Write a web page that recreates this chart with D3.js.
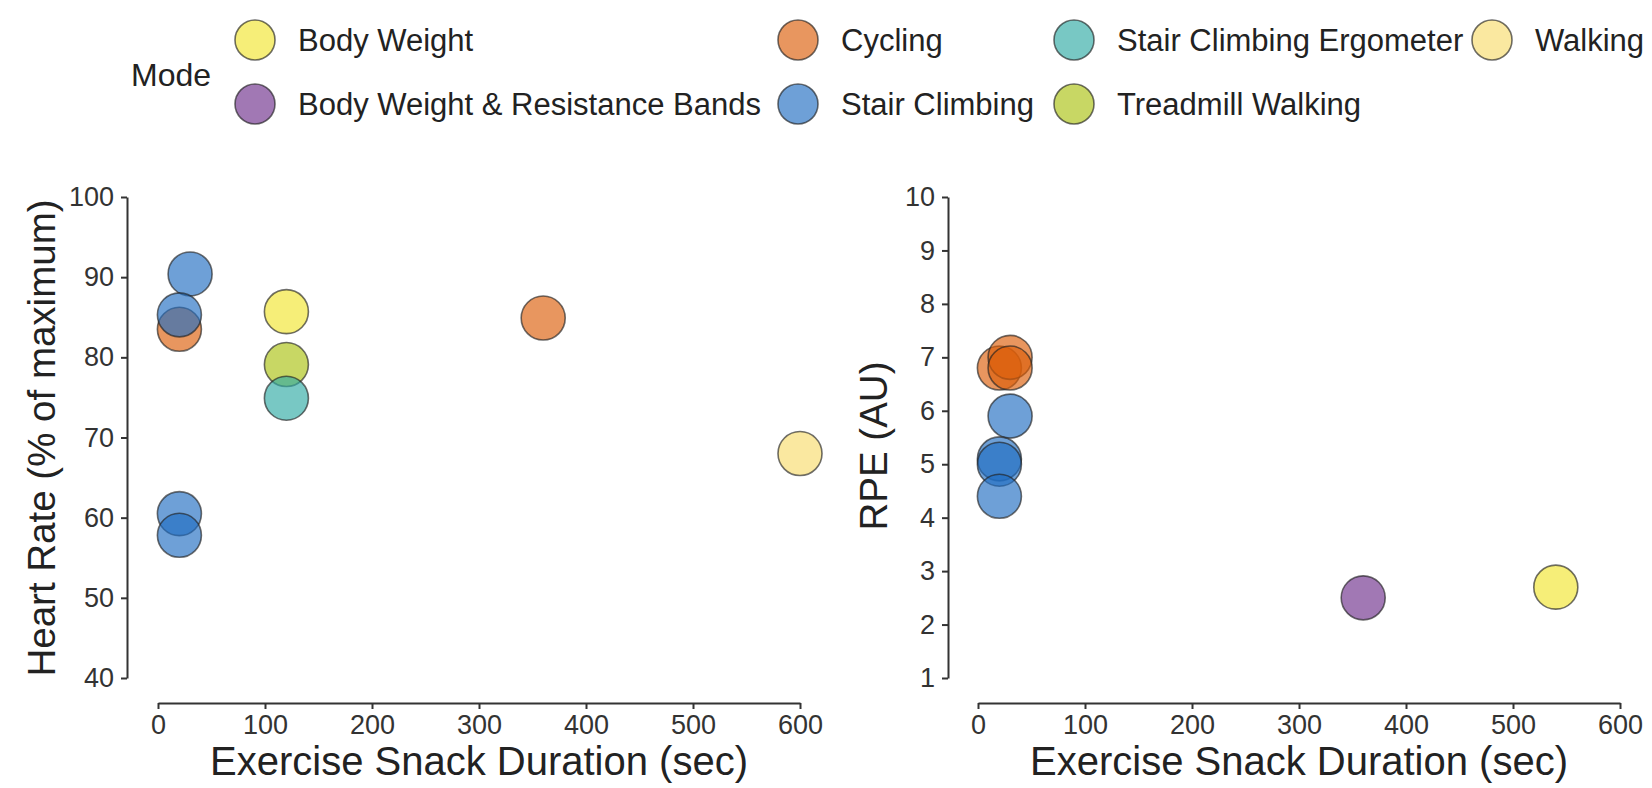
<!DOCTYPE html>
<html>
<head>
<meta charset="utf-8">
<script src="https://cdn.jsdelivr.net/npm/d3@7"></script>
<style>
  body { margin: 0; background: #fff; }
  text { font-family: "Liberation Sans", Arial, sans-serif; }
  .axis path, .axis line { stroke: #333; stroke-width: 2; }
  .axis text { fill: #333; font-size: 27px; }
</style>
</head>
<body>
<div id="canvas"></div>
<script>
// legend order (column-major, 2 rows) and colours
const modes = ["Body Weight", "Body Weight & Resistance Bands", "Cycling", "Stair Climbing",
  "Stair Climbing Ergometer", "Treadmill Walking", "Walking"];
const modeColors = ["#f1e530", "#6e308c", "#dc5e09", "#206dc2", "#30aba5", "#abc211", "#f8dc6d"];

// heart rate panel
const hrMode = ["Cycling", "Stair Climbing", "Stair Climbing", "Stair Climbing", "Stair Climbing",
  "Body Weight", "Treadmill Walking", "Stair Climbing Ergometer", "Cycling", "Walking"];
const hrSec = [20, 30, 20, 20, 20, 120, 120, 120, 360, 600];
const hrValue = [83.5, 90.4, 85.3, 60.5, 57.8, 85.7, 79.1, 74.9, 84.9, 68.0];

// RPE panel
const rpeMode = ["Cycling", "Cycling", "Cycling", "Stair Climbing", "Stair Climbing", "Stair Climbing",
  "Stair Climbing", "Body Weight & Resistance Bands", "Body Weight"];
const rpeSec = [20, 30, 30, 30, 20, 20, 20, 360, 540];
const rpeValue = [6.8, 7.0, 6.8, 5.9, 5.1, 5.0, 4.4, 2.5, 2.7];

const hrTicks = [40, 50, 60, 70, 80, 90, 100];
const rpeTicks = [1, 2, 3, 4, 5, 6, 7, 8, 9, 10];
const secTicks = [0, 100, 200, 300, 400, 500, 600];

const width = 1652;
const height = 788;

const svg = d3.select("#canvas").append("svg")
  .attr("width", width)
  .attr("height", height);

svg.append("rect").attr("width", width).attr("height", height).attr("fill", "#fff");

const color = d3.scaleOrdinal().domain(modes).range(modeColors);
const ptOpacity = 0.65;

// ---- legend ----
const legend = svg.append("g");
legend.append("text")
  .attr("x", 131).attr("y", 75)
  .attr("dy", "0.35em")
  .attr("font-size", 32)
  .attr("fill", "#222")
  .text("Mode");

const rowY = [40, 104];
const colX = [255, 798, 1074, 1492];
modes.forEach((m, i) => {
  const cx = colX[Math.floor(i / 2)];
  const cy = rowY[i % 2];
  legend.append("circle")
    .attr("cx", cx).attr("cy", cy).attr("r", 20)
    .attr("fill", color(m)).attr("fill-opacity", ptOpacity)
    .attr("stroke", "#222").attr("stroke-opacity", ptOpacity).attr("stroke-width", 1.6);
  legend.append("text")
    .attr("x", cx + 43).attr("y", cy)
    .attr("dy", "0.35em")
    .attr("font-size", 31)
    .attr("fill", "#222")
    .text(m);
});

// ---- panels ----
function panel(opts) {
  const g = svg.append("g");
  const x = d3.scaleLinear().domain([0, 600]).range([opts.x0, opts.x1]);
  const y = d3.scaleLinear().domain(opts.yDomain).range([678, 197]);

  g.append("g")
    .attr("class", "axis")
    .attr("transform", `translate(${opts.yAxisX},0)`)
    .call(d3.axisLeft(y).tickValues(opts.yTicks).tickSize(6).tickSizeOuter(0).tickPadding(7));

  g.append("g")
    .attr("class", "axis")
    .attr("transform", "translate(0,703)")
    .call(d3.axisBottom(x).tickValues(secTicks).tickSize(6).tickSizeOuter(0).tickPadding(6));

  g.append("text")
    .attr("x", (opts.x0 + opts.x1) / 2).attr("y", 775)
    .attr("text-anchor", "middle")
    .attr("font-size", 40)
    .attr("fill", "#222")
    .text("Exercise Snack Duration (sec)");

  g.append("text")
    .attr("transform", `translate(${opts.titleX},${opts.titleY}) rotate(-90)`)
    .attr("text-anchor", "middle")
    .attr("dy", "0.35em")
    .attr("font-size", 38.5)
    .attr("fill", "#222")
    .text(opts.yTitle);

  g.selectAll(".pt")
    .data(opts.sec.map((s, i) => ({ sec: s, value: opts.value[i], mode: opts.mode[i] })))
    .enter().append("circle")
    .attr("class", "pt")
    .attr("cx", d => x(d.sec))
    .attr("cy", d => y(d.value))
    .attr("r", 22)
    .attr("fill", d => color(d.mode))
    .attr("fill-opacity", ptOpacity)
    .attr("stroke", "#222")
    .attr("stroke-opacity", ptOpacity)
    .attr("stroke-width", 1.6);
}

panel({ x0: 158, x1: 800, yAxisX: 127, titleX: 42, titleY: 438, yDomain: [40, 100], yTicks: hrTicks,
  yTitle: "Heart Rate (% of maximum)", sec: hrSec, value: hrValue, mode: hrMode });
panel({ x0: 978, x1: 1620, yAxisX: 948, titleX: 874, titleY: 446, yDomain: [1, 10], yTicks: rpeTicks,
  yTitle: "RPE (AU)", sec: rpeSec, value: rpeValue, mode: rpeMode });
</script>
</body>
</html>
